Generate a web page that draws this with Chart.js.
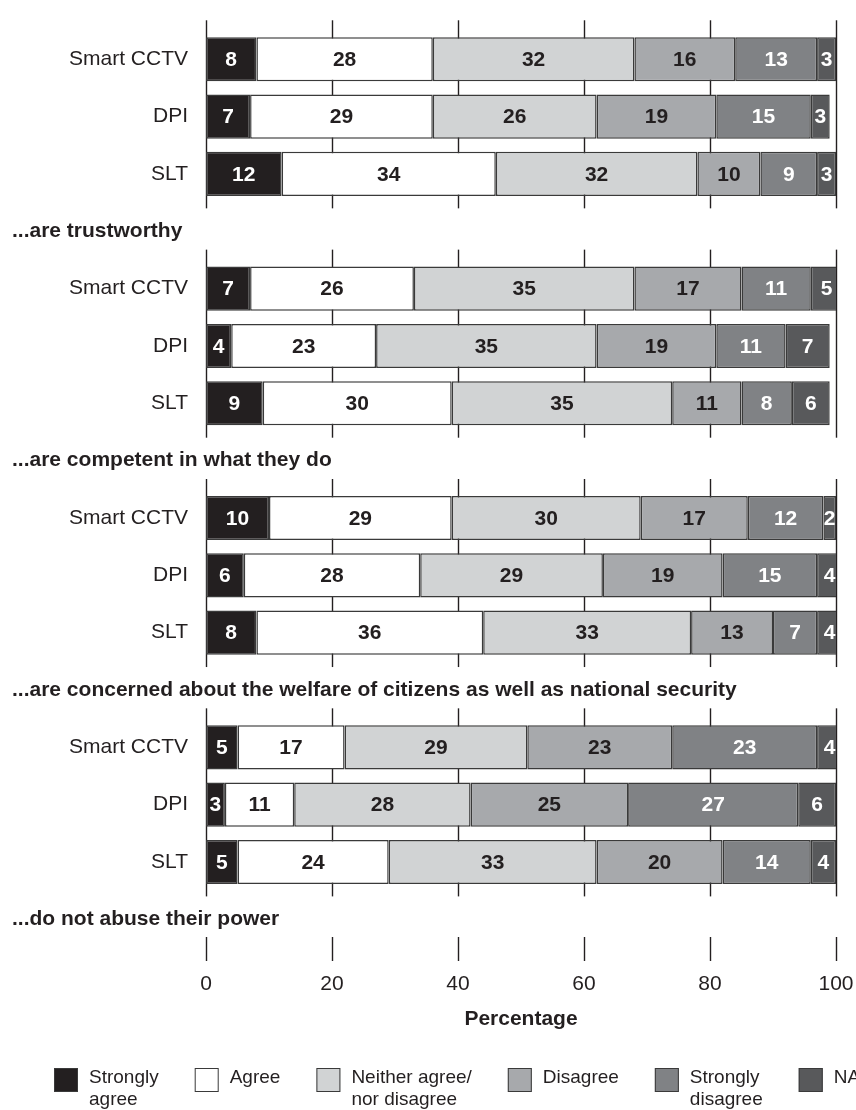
<!DOCTYPE html>
<html>
<head>
<meta charset="utf-8">
<script src="https://cdn.jsdelivr.net/npm/chart.js@4.4.1/dist/chart.umd.min.js"></script>
<style>
  html, body { margin: 0; padding: 0; background: #fff; }
  #wrap { width: 856px; height: 1110px; position: relative; }
</style>
</head>
<body>
<div id="wrap"><canvas id="trustChart"></canvas></div>
<script>
// Datos
const agencies = ['Smart CCTV', 'DPI', 'SLT'];
const statements = [
    '...are trustworthy',
    '...are competent in what they do',
    '...are concerned about the welfare of citizens as well as national security',
    '...do not abuse their power'
];
const responseLabels = ['Strongly agree', 'Agree', 'Neither agree/ nor disagree', 'Disagree', 'Strongly disagree', 'NA'];
const legendLines = [['Strongly', 'agree'], ['Agree'], ['Neither agree/', 'nor disagree'], ['Disagree'], ['Strongly', 'disagree'], ['NA']];
const xTicks = [0, 20, 40, 60, 80, 100];

// un valor por barra: grupo 1 (CCTV, DPI, SLT), grupo 2, ...
const stronglyAgree    = [8, 7, 12,  7, 4, 9,   10, 6, 8,   5, 3, 5];
const agree            = [28, 29, 34, 26, 23, 30, 29, 28, 36, 17, 11, 24];
const neither          = [32, 26, 32, 35, 35, 35, 30, 29, 33, 29, 28, 33];
const disagree         = [16, 19, 10, 17, 19, 11, 17, 19, 13, 23, 25, 20];
const stronglyDisagree = [13, 15, 9,  11, 11, 8,  12, 15, 7,  23, 27, 14];
const notApplicable    = [3, 3, 3,   5, 7, 6,    2, 4, 4,    4, 6, 4];

const fills = ['#231f20', '#ffffff', '#d1d3d4', '#a7a9ac', '#808285', '#58595b'];
const textColors = ['#ffffff', '#231f20', '#231f20', '#231f20', '#ffffff', '#ffffff'];
const FONT = '"Liberation Sans", Arial, Helvetica, sans-serif';

// Construir categorías con un hueco (para el título) tras cada grupo
const labels = [];
statements.forEach(function() {
    agencies.forEach(function(a) { labels.push(a); });
    labels.push('');
});

function withSpacers(values) {
    const out = [];
    for (let g = 0; g < statements.length; g++) {
        for (let k = 0; k < agencies.length; k++) out.push(values[g * agencies.length + k]);
        out.push(null);
    }
    return out;
}

const series = [stronglyAgree, agree, neither, disagree, stronglyDisagree, notApplicable];
const datasets = series.map(function(values, i) {
    return {
        label: responseLabels[i],
        data: withSpacers(values),
        backgroundColor: fills[i],
        borderColor: '#3a3a3a',
        borderWidth: 1.5,
        borderSkipped: false,
        barPercentage: 0.77,
        categoryPercentage: 1.0
    };
});

// Rejilla por grupos, marcas del eje, títulos de grupo, valores y leyenda
const decorations = {
    id: 'decorations',
    beforeDatasetsDraw: function(chart) {
        const ctx = chart.ctx;
        const xs = chart.scales.x, ys = chart.scales.y;
        const step = ys.getPixelForValue(1) - ys.getPixelForValue(0);
        ctx.save();
        ctx.strokeStyle = '#231f20';
        ctx.lineWidth = 1.4;
        for (let g = 0; g < statements.length; g++) {
            const first = g * (agencies.length + 1);
            const last = first + agencies.length - 1;
            const top = ys.getPixelForValue(first) - 0.68 * step;
            const bottom = ys.getPixelForValue(last) + 0.6 * step;
            xTicks.forEach(function(t) {
                const px = Math.round(xs.getPixelForValue(t)) + 0.5;
                ctx.beginPath();
                ctx.moveTo(px, top);
                ctx.lineTo(px, bottom);
                ctx.stroke();
            });
        }
        // marcas del eje x
        const b = chart.chartArea.bottom;
        xTicks.forEach(function(t) {
            const px = Math.round(xs.getPixelForValue(t)) + 0.5;
            ctx.beginPath();
            ctx.moveTo(px, b - 11);
            ctx.lineTo(px, b + 13);
            ctx.stroke();
        });
        ctx.restore();
    },
    afterDatasetsDraw: function(chart) {
        const ctx = chart.ctx;
        const ys = chart.scales.y;
        ctx.save();
        ctx.font = 'bold 21px ' + FONT;
        ctx.textAlign = 'center';
        ctx.textBaseline = 'middle';
        chart.data.datasets.forEach(function(ds, i) {
            const meta = chart.getDatasetMeta(i);
            meta.data.forEach(function(bar, j) {
                const v = ds.data[j];
                if (v == null) return;
                ctx.fillStyle = textColors[i];
                ctx.fillText(String(v), (bar.x + bar.base) / 2, bar.y + 1);
            });
        });
        // títulos de cada grupo
        ctx.fillStyle = '#231f20';
        ctx.textAlign = 'left';
        statements.forEach(function(s, g) {
            const idx = g * (agencies.length + 1) + agencies.length;
            ctx.fillText(s, 12, ys.getPixelForValue(idx));
        });
        ctx.restore();
    },
    afterDraw: function(chart) {
        const ctx = chart.ctx;
        ctx.save();
        ctx.font = '19px ' + FONT;
        ctx.textBaseline = 'alphabetic';
        ctx.textAlign = 'left';
        const boxTop = chart.height - 42;
        let x = 54;
        legendLines.forEach(function(lines, i) {
            ctx.fillStyle = fills[i];
            ctx.fillRect(x, boxTop, 24, 24);
            ctx.strokeStyle = '#3a3a3a';
            ctx.lineWidth = 1;
            ctx.strokeRect(x + 0.5, boxTop + 0.5, 23, 23);
            ctx.fillStyle = '#231f20';
            let w = 0;
            lines.forEach(function(line, k) {
                ctx.fillText(line, x + 35, boxTop + 15 + k * 22);
                w = Math.max(w, ctx.measureText(line).width);
            });
            x += 35 + w + 36;
        });
        ctx.restore();
    }
};

Chart.defaults.font.family = FONT;
Chart.defaults.color = '#231f20';

const ctx = document.getElementById('trustChart').getContext('2d');
const trustChart = new Chart(ctx, {
    type: 'bar',
    data: { labels: labels, datasets: datasets },
    options: {
        indexAxis: 'y',
        responsive: true,
        maintainAspectRatio: false,
        animation: false,
        layout: { padding: { top: 27, right: 0, bottom: 52, left: 0 } },
        plugins: {
            legend: { display: false },
            tooltip: { enabled: false }
        },
        scales: {
            x: {
                stacked: true,
                min: 0,
                max: 100,
                afterBuildTicks: function(scale) {
                    scale.ticks = xTicks.map(function(v) { return { value: v }; });
                },
                afterFit: function(scale) {
                    scale.height = 110;
                    scale.paddingRight = 20;
                },
                grid: { display: false, drawTicks: false },
                border: { display: false },
                ticks: { font: { size: 21 }, padding: 24, maxRotation: 0 },
                title: {
                    display: true,
                    text: 'Percentage',
                    font: { size: 21, weight: 'bold' },
                    padding: { top: 0, bottom: 26 }
                }
            },
            y: {
                stacked: true,
                afterFit: function(scale) { scale.width = 206; },
                grid: { display: false, drawTicks: false },
                border: { display: false },
                ticks: { font: { size: 21 }, padding: 18, autoSkip: false }
            }
        }
    },
    plugins: [decorations]
});
</script>
</body>
</html>
